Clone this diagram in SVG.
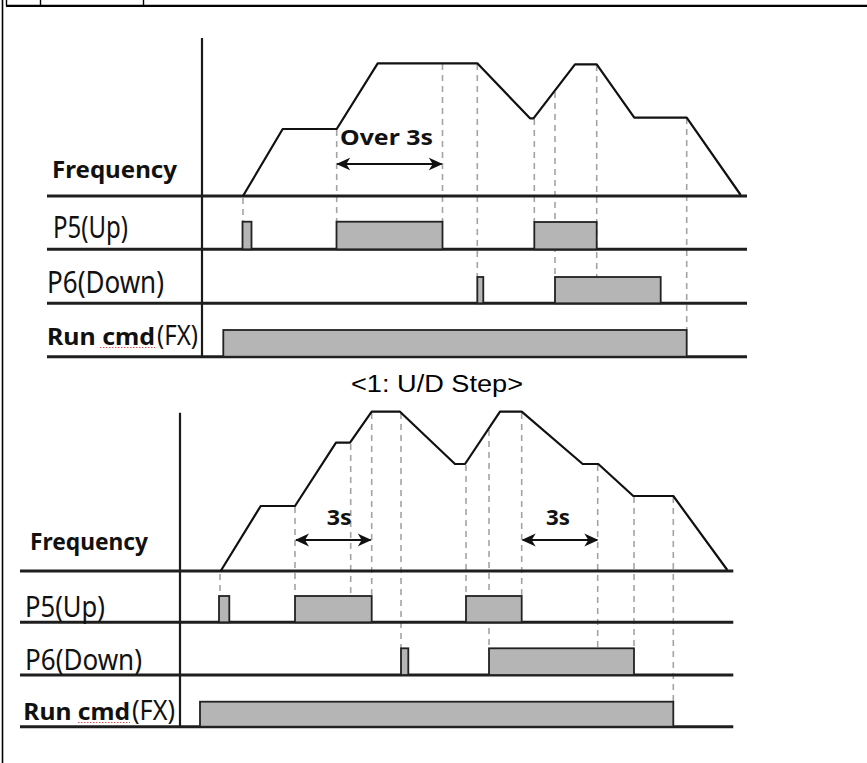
<svg xmlns="http://www.w3.org/2000/svg" width="867" height="763" viewBox="0 0 867 763">
<style>
.frame{stroke:#000;fill:none}
.axis{stroke:#1a1a1a;stroke-width:2.2;fill:none}
.base{stroke:#1e1e1e;stroke-width:3;fill:none}
.curve{stroke:#111;stroke-width:2.2;fill:none;stroke-linejoin:round}
.dash{stroke:#a3a3a3;stroke-width:1.6;stroke-dasharray:6 5;fill:none}
.pulse{fill:#b5b5b5;stroke:#222;stroke-width:1.8}
.arrow{stroke:#111;stroke-width:2;fill:none;marker-start:url(#ah);marker-end:url(#ah)}
.lbl{font-family:"Noto Sans","Open Sans",sans-serif;fill:#111}
.b{font-weight:bold}
.cap{font-family:"Liberation Sans",Arial,sans-serif;fill:#000}
.spell{stroke:#e05555;stroke-width:1.2;stroke-dasharray:1.5 1.5;fill:none}
</style>
<defs>
<marker id="ah" viewBox="0 0 14 14" refX="13" refY="7" markerWidth="14" markerHeight="14" markerUnits="userSpaceOnUse" orient="auto-start-reverse">
<path d="M0,0.5 L14,7 L0,13.5 L4,7 z" fill="#111"/>
</marker>
</defs>
<rect width="867" height="763" fill="#fff"/>
<g id="frame">
<line class="frame" x1="2.5" y1="0" x2="2.5" y2="763" stroke-width="1.6"/>
<line class="frame" x1="6" y1="5.8" x2="867" y2="5.8" stroke-width="2.2"/>
<line class="frame" x1="6.5" y1="0" x2="6.5" y2="5.8" stroke-width="1.4"/>
<line class="frame" x1="40.5" y1="0" x2="40.5" y2="5.8" stroke-width="1.4"/>
<line class="frame" x1="143.5" y1="0" x2="143.5" y2="5.8" stroke-width="1.4"/>
</g>
<g id="chart1">
<g id="chart1-dashes">
<line class="dash" x1="243" y1="198" x2="243" y2="222"/>
<line class="dash" x1="336.7" y1="130" x2="336.7" y2="222"/>
<line class="dash" x1="442.5" y1="64" x2="442.5" y2="222"/>
<line class="dash" x1="477.3" y1="64" x2="477.3" y2="277"/>
<line class="dash" x1="534.3" y1="119" x2="534.3" y2="222"/>
<line class="dash" x1="555" y1="92" x2="555" y2="277"/>
<line class="dash" x1="596.7" y1="65" x2="596.7" y2="277"/>
<line class="dash" x1="686.7" y1="118" x2="686.7" y2="330"/>
</g>
<g id="chart1-axes">
<line class="axis" x1="202" y1="38" x2="202" y2="357"/>
<line class="base" x1="47" y1="196" x2="747" y2="196"/>
<line class="base" x1="47" y1="249.3" x2="747" y2="249.3"/>
<line class="base" x1="47" y1="303.3" x2="747" y2="303.3"/>
<line class="base" x1="47" y1="356.7" x2="747" y2="356.7"/>
</g>
<polyline id="chart1-frequency" class="curve" points="243,196 282.7,129 336.7,129 377.7,63.3 477.3,63.3 530,118.3 533.5,118.3 575,64.3 596.7,64.3 634.3,117.7 686.7,117.7 740.7,195"/>
<g id="chart1-p5">
<rect class="pulse" x="242.5" y="221.7" width="9" height="27.6"/>
<rect class="pulse" x="336.5" y="221.7" width="106" height="27.6"/>
<rect class="pulse" x="534.3" y="222" width="62.4" height="27.3"/>
</g>
<g id="chart1-p6">
<rect class="pulse" x="477.3" y="277" width="6" height="26.3"/>
<rect class="pulse" x="555" y="277" width="105.7" height="26.3"/>
</g>
<g id="chart1-run">
<rect class="pulse" x="223.3" y="330" width="463.4" height="26.7"/>
</g>
<g id="chart1-labels">
<text class="lbl b" x="52" y="178" font-size="24" textLength="125" lengthAdjust="spacingAndGlyphs">Frequency</text>
<text class="lbl" x="53" y="238" font-size="30" textLength="75" lengthAdjust="spacingAndGlyphs">P5(Up)</text>
<text class="lbl" x="47" y="293" font-size="30" textLength="117" lengthAdjust="spacingAndGlyphs">P6(Down)</text>
<text class="lbl b" x="47" y="345" font-size="23" textLength="108" lengthAdjust="spacingAndGlyphs">Run cmd</text>
<text class="lbl" x="157" y="345" font-size="28" textLength="41" lengthAdjust="spacingAndGlyphs">(FX)</text>
<line class="spell" x1="100" y1="347.5" x2="155" y2="347.5"/>
<text class="lbl b" x="340" y="145" font-size="22" textLength="93" lengthAdjust="spacingAndGlyphs">Over 3s</text>
</g>
<line id="chart1-span" class="arrow" x1="337.3" y1="164" x2="441.7" y2="164"/>
</g>
<text id="caption" class="cap" x="351" y="392" font-size="23" textLength="172" lengthAdjust="spacingAndGlyphs">&lt;1: U/D Step&gt;</text>
<g id="chart2">
<g id="chart2-dashes">
<line class="dash" x1="220" y1="574" x2="220" y2="596"/>
<line class="dash" x1="295" y1="507" x2="295" y2="596"/>
<line class="dash" x1="350.7" y1="444" x2="350.7" y2="596"/>
<line class="dash" x1="371.7" y1="413" x2="371.7" y2="596"/>
<line class="dash" x1="401" y1="413" x2="401" y2="648.3"/>
<line class="dash" x1="466" y1="465" x2="466" y2="596"/>
<line class="dash" x1="489" y1="430" x2="489" y2="648.3"/>
<line class="dash" x1="521.7" y1="413" x2="521.7" y2="596"/>
<line class="dash" x1="597.7" y1="465" x2="597.7" y2="648.3"/>
<line class="dash" x1="634" y1="497" x2="634" y2="648.3"/>
<line class="dash" x1="673.3" y1="497" x2="673.3" y2="701.7"/>
</g>
<g id="chart2-axes">
<line class="axis" x1="180" y1="412.7" x2="180" y2="726"/>
<line class="base" x1="20" y1="571" x2="733.3" y2="571"/>
<line class="base" x1="20" y1="622.3" x2="733.3" y2="622.3"/>
<line class="base" x1="20" y1="675" x2="733.3" y2="675"/>
<line class="base" x1="20" y1="726.7" x2="733.3" y2="726.7"/>
</g>
<polyline id="chart2-frequency" class="curve" points="220.7,571 260.7,506 295,506 336,442.7 350,442.7 371.7,411.7 400,411.7 455,464 465,464 500,411.7 521.7,411.7 582.7,464 598.3,464 633.3,496 673.3,496 727.3,570"/>
<g id="chart2-p5">
<rect class="pulse" x="219" y="596" width="10.3" height="26.3"/>
<rect class="pulse" x="295" y="596" width="76.7" height="26.3"/>
<rect class="pulse" x="466" y="596" width="55.7" height="26.3"/>
</g>
<g id="chart2-p6">
<rect class="pulse" x="401" y="648.3" width="7.3" height="26.7"/>
<rect class="pulse" x="489" y="648.3" width="145" height="26.7"/>
</g>
<g id="chart2-run">
<rect class="pulse" x="200" y="701.7" width="473.3" height="25"/>
</g>
<g id="chart2-labels">
<text class="lbl b" x="30" y="550" font-size="24" textLength="118" lengthAdjust="spacingAndGlyphs">Frequency</text>
<text class="lbl" x="25" y="616.7" font-size="29" textLength="80" lengthAdjust="spacingAndGlyphs">P5(Up)</text>
<text class="lbl" x="25" y="670" font-size="29" textLength="117" lengthAdjust="spacingAndGlyphs">P6(Down)</text>
<text class="lbl b" x="23.3" y="720" font-size="23" textLength="106.7" lengthAdjust="spacingAndGlyphs">Run cmd</text>
<text class="lbl" x="132" y="720" font-size="27" textLength="43" lengthAdjust="spacingAndGlyphs">(FX)</text>
<line class="spell" x1="78" y1="722.5" x2="130" y2="722.5"/>
<text class="lbl b" x="326.7" y="525" font-size="21" textLength="25" lengthAdjust="spacingAndGlyphs">3s</text>
<text class="lbl b" x="546" y="525" font-size="21" textLength="24" lengthAdjust="spacingAndGlyphs">3s</text>
</g>
<line id="chart2-span1" class="arrow" x1="296" y1="540" x2="370.7" y2="540"/>
<line id="chart2-span2" class="arrow" x1="522.7" y1="540" x2="597.3" y2="540"/>
</g>
</svg>
